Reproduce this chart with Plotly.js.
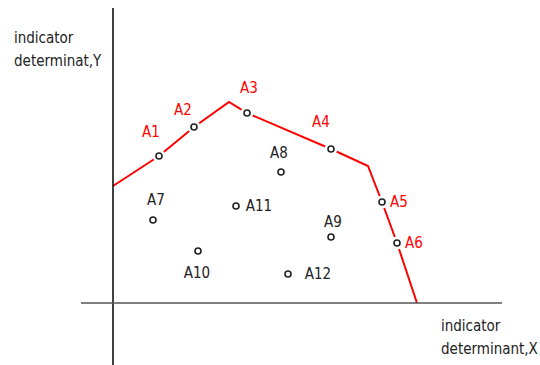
<!DOCTYPE html>
<html>
<head>
<meta charset="utf-8">
<script src="https://cdn.plot.ly/plotly-3.0.1.min.js"></script>
<style>html,body{margin:0;padding:0;background:#fff;}#chart{width:540px;height:365px;}</style>
</head>
<body>
<div id="chart"></div>
<script>
// Frontier (red polyline) vertices
const frontierX = [0, 46, 81, 116, 134, 218, 255, 269, 284, 304];
const frontierY = [117, 147, 176, 201, 190, 154, 137, 101, 60, 0];

// Points
const pointNames = ["A1","A2","A3","A4","A5","A6","A7","A8","A9","A10","A11","A12"];
const pointX = [46, 81, 134, 218, 269, 284, 40, 168, 218, 85, 123, 175];
const pointY = [147, 176, 190, 154, 101, 60, 83, 131, 66, 52, 97, 29];
const onFrontier = [true,true,true,true,true,true,false,false,false,false,false,false];

// Label positions
const labelX = [38, 70, 136, 208, 286, 301, 43, 166, 220, 84, 146, 205];
const labelY = [170, 192, 214, 180, 100, 59, 102, 149, 80, 29, 96, 28];

const xTitleLines = ["indicator", "determinant,X"];
const yTitleLines = ["indicator", "determinat,Y"];

const FONT = "DejaVu Sans Condensed, sans-serif";

const gapIdx = pointNames.map((n,i)=>i).filter(i=>onFrontier[i]);

const traces = [
  {x: frontierX, y: frontierY, mode: 'lines', line: {color: '#ff0000', width: 2}, hoverinfo: 'skip'},
  {x: gapIdx.map(i=>pointX[i]), y: gapIdx.map(i=>pointY[i]), mode: 'markers',
   marker: {symbol: 'circle', size: 13, color: '#ffffff', line: {width: 0}}, hoverinfo: 'skip'},
  {x: pointX, y: pointY, mode: 'markers',
   marker: {symbol: 'circle-open', size: 6, color: '#222', line: {width: 1.6, color: '#222'}}, hoverinfo: 'skip'},
  {x: labelX, y: labelY, mode: 'text', text: pointNames, textposition: 'middle center',
   textfont: {family: FONT, size: 15, color: pointNames.map((n,i)=>onFrontier[i] ? '#ff0000' : '#222')},
   hoverinfo: 'skip'}
];

const titleAnn = (txt, x, y) => ({xref: 'x', yref: 'y', x: x, y: y, text: txt, showarrow: false,
  xanchor: 'left', yanchor: 'middle', align: 'left', font: {family: FONT, size: 15, color: '#222'}});

const layout = {
  width: 540, height: 365,
  margin: {l: 0, r: 0, t: 0, b: 0},
  paper_bgcolor: '#fff', plot_bgcolor: '#fff',
  showlegend: false,
  xaxis: {range: [-113, 427], visible: false, fixedrange: true},
  yaxis: {range: [-62, 303], visible: false, fixedrange: true},
  shapes: [
    {type: 'line', xref: 'x', yref: 'y', x0: 0, x1: 0, y0: 295, y1: -62, line: {color: '#111', width: 1.6}},
    {type: 'line', xref: 'x', yref: 'y', x0: -32, x1: 389, y0: 0, y1: 0, line: {color: '#555', width: 1.6}}
  ],
  annotations: [
    titleAnn(yTitleLines[0], -101, 265),
    titleAnn(yTitleLines[1], -101, 242),
    titleAnn(xTitleLines[0], 326, -23),
    titleAnn(xTitleLines[1], 326, -46)
  ]
};

Plotly.newPlot('chart', traces, layout, {staticPlot: true, displayModeBar: false});
</script>
</body>
</html>
